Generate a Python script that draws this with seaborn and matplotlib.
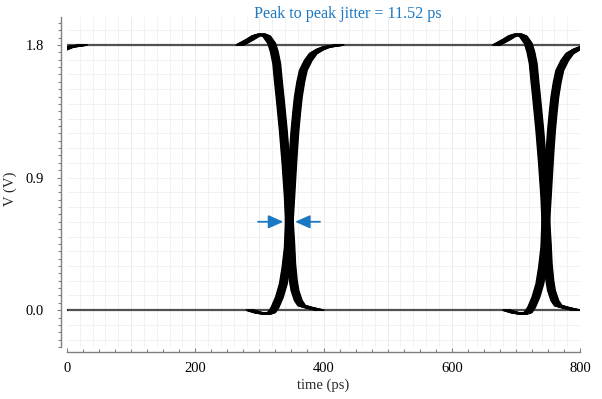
import numpy as np
import pandas as pd
import matplotlib
matplotlib.use("Agg")
import matplotlib.pyplot as plt
from matplotlib.ticker import MultipleLocator
import seaborn as sns

# one falling and one rising transition (ps, V)
fall_t = [269.8, 285.4, 294.3, 303.6, 311.4, 319.2, 323.3, 327.0, 329.5, 332.2, 337.3, 341.5,
          345.1, 346.7, 348.9, 350.4, 352.9, 355.5, 360.7, 366.0, 379.0, 394.5]
fall_v = [1.800, 1.837, 1.861, 1.873, 1.859, 1.811, 1.753, 1.674, 1.560, 1.447, 1.220, 0.994,
          0.767, 0.608, 0.450, 0.314, 0.201, 0.133, 0.065, 0.031, 0.015, 0.0]
rise_t = [285.4, 298.3, 311.4, 319.2, 324.4, 331.1, 337.3, 341.5, 345.1, 346.7, 348.9, 350.4,
          352.9, 355.5, 358.2, 360.7, 364.5, 368.5, 376.3, 384.1, 394.5, 405.0, 425.7]
rise_v = [0.0, -0.017, -0.026, -0.015, 0.019, 0.087, 0.178, 0.291, 0.427, 0.608, 0.767, 0.880,
          1.062, 1.220, 1.345, 1.447, 1.549, 1.628, 1.696, 1.742, 1.769, 1.787, 1.800]

bit_period = 400
periods = [-1, 0, 1]
# edge offsets of the overlaid traces, ps (spread = peak to peak jitter)
jitter_offsets = [-5.76, -4.8, -3.84, -2.88, -1.92, -0.96, 0.0, 0.96, 1.92, 2.88, 3.84, 4.8, 5.76]
levels = [0.0, 1.8]
jitter_pp = 11.52
crossing_t, crossing_v = 346.7, 0.6

rows = []
n = 0
for k in periods:
    for dj in jitter_offsets:
        for tt, vv in ((fall_t, fall_v), (rise_t, rise_v)):
            for t, v in zip(tt, vv):
                rows.append({"t": t + k * bit_period + dj, "v": v, "trace": n})
            n += 1
edges = pd.DataFrame(rows)
flat = pd.DataFrame({"t": [0, 800, 0, 800], "v": [levels[0], levels[0], levels[1], levels[1]],
                     "trace": [0, 0, 1, 1]})

sns.set_style("white")
plt.rcParams["font.family"] = ["Liberation Serif", "DejaVu Serif"]

fig = plt.figure(figsize=(6.02, 3.99), dpi=100)
ax = fig.add_axes([0.1113, 0.1303, 0.8522, 0.8271])

sns.lineplot(data=flat, x="t", y="v", units="trace", estimator=None, color="#505050",
             lw=1.6, ax=ax, sort=False)
sns.lineplot(data=edges, x="t", y="v", units="trace", estimator=None, color="black",
             lw=1.2, ax=ax, sort=False)

blue = "#1b78c2"
arrow = dict(arrowstyle="-|>,head_length=0.9,head_width=0.4", color=blue, lw=1.3,
             shrinkA=0, shrinkB=0)
ax.annotate("", xy=(crossing_t - 9.3, crossing_v), xytext=(crossing_t - 48.8, crossing_v),
            arrowprops=arrow)
ax.annotate("", xy=(crossing_t + 8.9, crossing_v), xytext=(crossing_t + 47.8, crossing_v),
            arrowprops=arrow)

ax.set_xlim(0, 800)
ax.set_ylim(-0.25, 1.99)
ax.xaxis.set_major_locator(MultipleLocator(200))
ax.xaxis.set_minor_locator(MultipleLocator(25))
ax.yaxis.set_major_locator(MultipleLocator(0.9))
ax.yaxis.set_minor_locator(MultipleLocator(0.05))
ax.set_yticks([0.0, 0.9, 1.8])
ax.set_yticklabels(["0.0", "0.9", "1.8"])

# faint grid
for gx in np.arange(20, 800, 20):
    ax.axvline(gx, color="#f0f0f0" if gx % 100 else "#e8e8e8", lw=0.6, zorder=0)
for gy in np.arange(-0.2, 2.0, 0.1):
    ax.axhline(gy, color="#f0f0f0", lw=0.6, zorder=0)

for s in ["top", "right"]:
    ax.spines[s].set_visible(False)
ax.spines["left"].set_position(("outward", 4.5))
ax.spines["bottom"].set_position(("outward", 3.5))
for s in ["left", "bottom"]:
    ax.spines[s].set_color("#808080")
    ax.spines[s].set_linewidth(1.0)
ax.tick_params(which="both", bottom=True, left=True, colors="#808080", labelcolor="black",
               labelsize=10.5)
ax.tick_params(which="major", length=3, width=0.8)
ax.tick_params(which="minor", length=2, width=0.8)
ax.tick_params(axis="x", which="both", direction="in", pad=7)
ax.tick_params(axis="y", which="both", direction="out", pad=9)
ax.set_xlabel("time (ps)", fontsize=10.5, labelpad=3)
ax.set_ylabel("V (V)", fontsize=10.5)
ax.yaxis.set_label_coords(-0.098, 0.48)

fig.text(0.577, 0.966, "Peak to peak jitter = %.2f ps" % jitter_pp, color=blue,
         fontsize=11.6, ha="center", va="center")

fig.savefig("out.png", dpi=100)
